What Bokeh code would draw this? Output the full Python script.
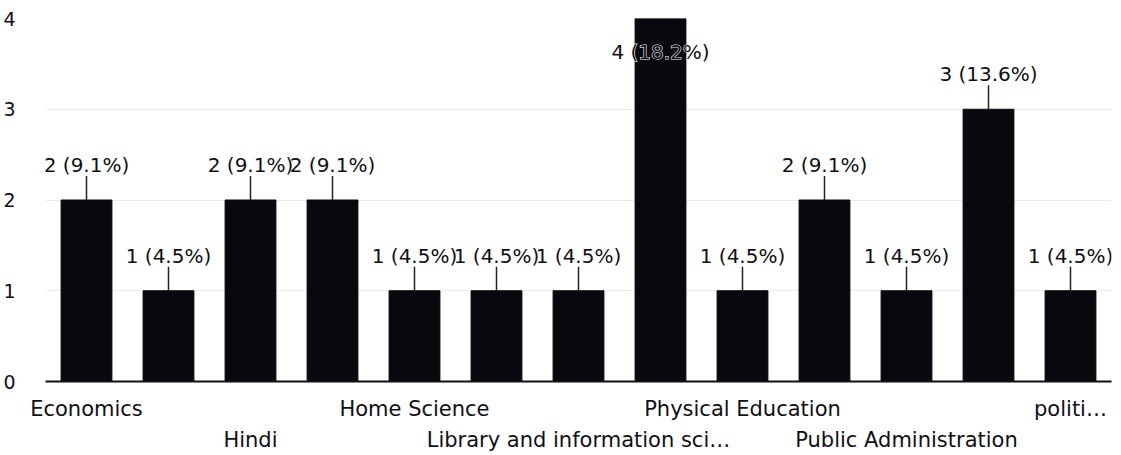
from bokeh.plotting import figure
from bokeh.models import (ColumnDataSource, CategoricalAxis, FixedTicker, Range1d,
                          FactorRange, CustomJSTickFormatter)
from bokeh.embed import file_html
from bokeh.resources import INLINE
from bokeh.core.properties import value

# ---- data -------------------------------------------------------------
categories = ["Economics", "English", "Hindi", "History", "Home Science", "Law",
              "Library and information sci…", "Mathematics", "Physical Education",
              "Psychology", "Public Administration", "Sociology", "politi…"]
counts = [2, 1, 2, 2, 1, 1, 1, 4, 1, 2, 1, 3, 1]
row1_labels = ["Economics", "Home Science", "Physical Education", "politi…"]
row2_labels = ["Hindi", "Library and information sci…", "Public Administration"]
y_ticks = [0, 1, 2, 3, 4]

total = sum(counts)
labels = [f"{c} ({c / total * 100:.1f}%)" for c in counts]
y_max = max(y_ticks)
inside = [c >= y_max - 0.4 for c in counts]

FONT = value("DejaVu Sans")
INK = "#101014"
BAR = "#08080f"

src_out = ColumnDataSource(dict(
    cat=[c for c, f in zip(categories, inside) if not f],
    val=[v for v, f in zip(counts, inside) if not f],
    lab=[l for l, f in zip(labels, inside) if not f]))
src_in = ColumnDataSource(dict(
    cat=[c for c, f in zip(categories, inside) if f],
    val=[v for v, f in zip(counts, inside) if f],
    lab=[l for l, f in zip(labels, inside) if f]))

p = figure(x_range=FactorRange(*categories), y_range=Range1d(0, y_max),
           frame_width=1066, frame_height=363,
           min_border_left=37, min_border_top=18, min_border_right=2, min_border_bottom=0,
           output_backend="svg", toolbar_location=None)
p.outline_line_color = None
p.background_fill_color = "white"

p.vbar(x=categories, top=counts, width=0.62, fill_color=BAR, line_color=BAR)

# leader lines
p.ray(x="cat", y="val", length=24, length_units="screen", angle=1.5708,
      line_color="#222222", line_width=1.5, source=src_out)

p.text(x="cat", y="val", text="lab", source=src_out, y_offset=-35,
       text_align="center", text_baseline="alphabetic",
       text_font=FONT, text_font_size="20px", text_color=INK)
# label inside the tallest bar: white halo underneath, dark text on top
p.text(x="cat", y="val", text="lab", source=src_in, y_offset=33,
       text_align="center", text_baseline="alphabetic",
       text_font=FONT, text_font_size="20px", text_color="white",
       text_outline_color="white")
p.text(x="cat", y="val", text="lab", source=src_in, y_offset=33,
       text_align="center", text_baseline="alphabetic",
       text_font=FONT, text_font_size="20px", text_color=INK)

# y axis
p.yaxis.ticker = FixedTicker(ticks=y_ticks)
p.yaxis.axis_line_color = None
p.yaxis.major_tick_line_color = None
p.yaxis.minor_tick_line_color = None
p.yaxis.major_label_standoff = 24
p.yaxis.major_label_text_font = "DejaVu Sans"
p.yaxis.major_label_text_font_size = "19px"
p.yaxis.major_label_text_color = INK

p.ygrid.ticker = FixedTicker(ticks=y_ticks[1:])
p.ygrid.grid_line_color = "#ececec"
p.xgrid.visible = False

PICK = "return shown.includes(tick) ? tick : ' ';"

# x axis, first row
ax1 = p.xaxis[0]
ax1.formatter = CustomJSTickFormatter(args=dict(shown=row1_labels), code=PICK)
ax1.axis_line_color = INK
ax1.axis_line_width = 2
ax1.major_tick_line_color = None
ax1.major_tick_out = 0
ax1.major_label_standoff = 15
ax1.major_label_text_font = "DejaVu Sans"
ax1.major_label_text_font_size = "21px"
ax1.major_label_text_color = INK

# x axis, second row
ax2 = CategoricalAxis(formatter=CustomJSTickFormatter(args=dict(shown=row2_labels), code=PICK))
ax2.axis_line_color = None
ax2.major_tick_line_color = None
ax2.major_tick_out = 0
ax2.major_label_standoff = 4
ax2.major_label_text_font = "DejaVu Sans"
ax2.major_label_text_font_size = "21px"
ax2.major_label_text_color = INK
p.add_layout(ax2, "below")

open("out.html", "w").write(file_html(p, INLINE))
